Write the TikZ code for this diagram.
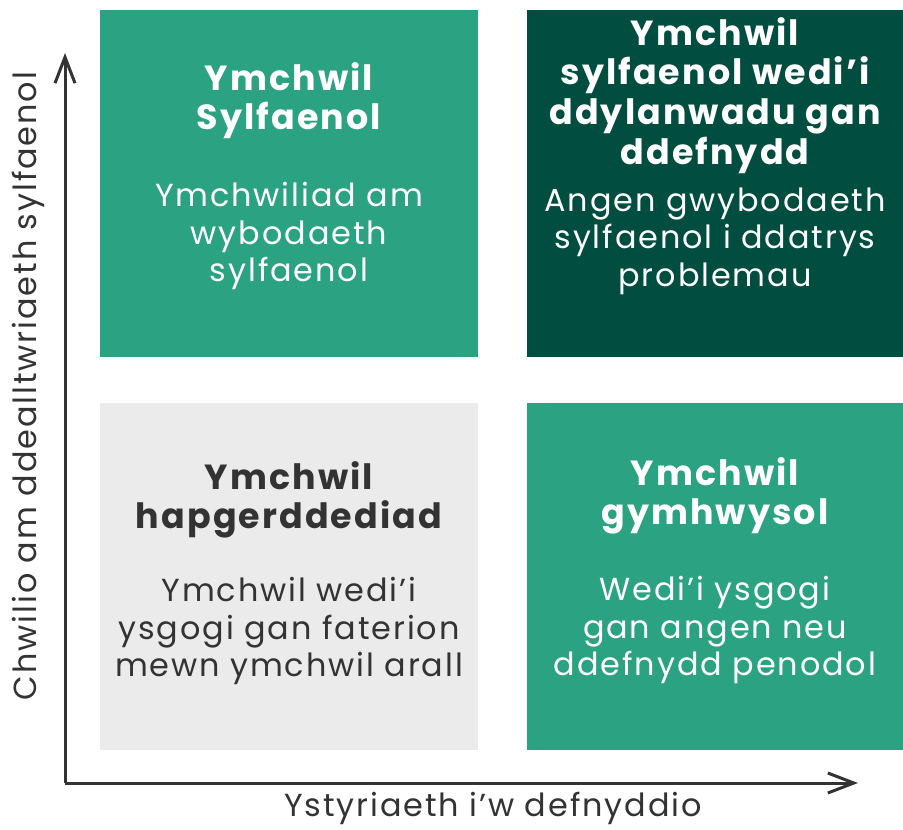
\documentclass[tikz,border=0pt]{standalone}
\usepackage{fontspec}
\setmainfont{Poppins}[LetterSpace=6]
\usetikzlibrary{arrows.meta,positioning}
\definecolor{quadgreen}{HTML}{2BA382}
\definecolor{quaddark}{HTML}{014D40}
\definecolor{quadgrey}{HTML}{EBEBEB}
\definecolor{inkgrey}{HTML}{333333}
\newcommand{\qtitle}{\fontsize{35}{40}\selectfont\bfseries\spaceskip=\fontdimen2\font\relax}
\newcommand{\qbody}{\fontsize{32}{37.5}\selectfont\mdseries\spaceskip=\fontdimen2\font\relax}

\begin{document}
\begin{tikzpicture}[x=1bp,y=-1bp,
        quad/.style={rectangle, inner sep=0pt, outer sep=0pt,
                     minimum height=347bp},
        quadtext/.style={inner sep=0pt, text width=372bp, align=center},
        axis/.style={inkgrey, line width=3bp,
                     -{Straight Barb[length=26bp,width=20bp]}}]
            \useasboundingbox (0,0) rectangle (903,830);
            % quadrants
            \node[quad, fill=quadgreen, minimum width=378bp] (pure) at (289,183.5) {};
            \node[quad, fill=quaddark, minimum width=376bp] (useinspired) at (715,183.5) {};
            \node[quad, fill=quadgrey, minimum width=378bp] (serendip) at (289,576.5) {};
            \node[quad, fill=quadgreen, minimum width=376bp] (applied) at (715,576.5) {};
            % texts
            \node[quadtext, white, below=52bp of pure.north] (pureT)
                {{\qtitle Ymchwil\\ Sylfaenol\par}\vspace{39.5bp}
                 {\qbody Ymchwiliad am\\ wybodaeth\\ sylfaenol\par}};
            \node[quadtext, white, below=7bp of useinspired.north] (useinspiredT)
                {{\qtitle Ymchwil\\ sylfaenol wedi’i\\ ddylanwadu gan\\ ddefnydd\par}\vspace{9.5bp}
                 {\qbody Angen gwybodaeth\\ sylfaenol i ddatrys\\ problemau\par}};
            \node[quadtext, inkgrey, below=58bp of serendip.north] (serendipT)
                {{\qtitle Ymchwil\\ hapgerddediad\par}\vspace{35.5bp}
                 {\qbody Ymchwil wedi’i\\ ysgogi gan faterion\\ mewn ymchwil arall\par}};
            \node[quadtext, white, below=54bp of applied.north] (appliedT)
                {{\qtitle Ymchwil\\ gymhwysol\par}\vspace{38.5bp}
                 {\qbody Wedi’i ysgogi\\ gan angen neu\\ ddefnydd penodol\par}};
            % axes
            \coordinate (origin) at (65,783);
            \coordinate (ytip) at (65,53);
            \coordinate (xtip) at (858,783);
            \draw[axis] (origin) -- (ytip);
            \draw[axis] (origin) -- (xtip);
            \node[inkgrey, font=\qbody, rotate=90] (ylab) at (28,386) {Chwilio am ddealltwriaeth sylfaenol};
            \node[inkgrey, font=\qbody] (xlab) at (493,808) {Ystyriaeth i’w defnyddio};
\end{tikzpicture}
\end{document}
